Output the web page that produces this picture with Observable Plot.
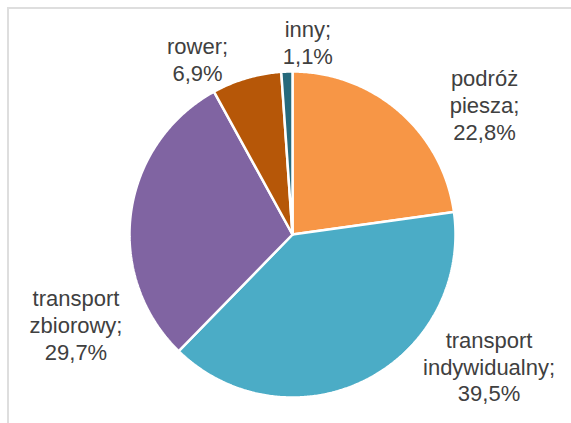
<!DOCTYPE html>
<html>
<head>
<meta charset="utf-8">
<script src="https://cdn.jsdelivr.net/npm/d3@7"></script>
<script src="https://cdn.jsdelivr.net/npm/@observablehq/plot@0.6"></script>
<style>
  html, body { margin: 0; padding: 0; background: #fff; }
  #wrap { position: relative; width: 571px; height: 423px; overflow: hidden; }
  #frame { position: absolute; left: 7px; top: 7px; width: 700px; height: 600px;
           border: 2px solid #dedede; pointer-events: none; box-sizing: border-box; }
</style>
</head>
<body>
<div id="wrap"><div id="frame"></div></div>
<script>
// ---- data ----
const categories = ["podróż piesza", "transport indywidualny", "transport zbiorowy", "rower", "inny"];
const values = [22.8, 39.5, 29.7, 6.9, 1.1];
const colors = ["#F79646", "#4BACC6", "#8064A2", "#B65708", "#276A7C"];

// ---- layout (pixels) ----
const W = 571, H = 423;
const cx = 292, cy = 234, R = 163;
// label nudges from the slice's outer edge midpoint, in pixels
const labelNudge = [[85, -7], [123, -14], [-55, 112], [-49, -19], [21, -30]];

const pie = d3.pie().sort(null).value(d => d.value)(
  categories.map((name, i) => ({name, value: values[i]}))
);

// slice outlines (unit circle, angle clockwise from 12 o'clock)
const slicePts = [];
for (const a of pie) {
  const n = Math.max(4, Math.ceil((a.endAngle - a.startAngle) / (Math.PI / 360)));
  slicePts.push({name: a.data.name, x: 0, y: 0});
  for (let k = 0; k <= n; k++) {
    const t = a.startAngle + (a.endAngle - a.startAngle) * k / n;
    slicePts.push({name: a.data.name, x: Math.sin(t), y: Math.cos(t)});
  }
  slicePts.push({name: a.data.name, x: 0, y: 0});
}

const fmt = v => v.toFixed(1).replace(".", ",") + "%";
const labels = pie.map((a, i) => {
  const m = (a.startAngle + a.endAngle) / 2;
  return {
    x: Math.sin(m) + labelNudge[i][0] / R,
    y: Math.cos(m) - labelNudge[i][1] / R,
    text: a.data.name.replace(" ", "\n") + ";\n" + fmt(a.data.value)
  };
});

const chart = Plot.plot({
  width: W, height: H,
  margin: 0,
  style: {background: "transparent", fontFamily: "'Liberation Sans', Arial, sans-serif"},
  x: {domain: [-cx / R, (W - cx) / R], range: [0, W], axis: null},
  y: {domain: [(cy - H) / R, cy / R], range: [H, 0], axis: null},
  color: {domain: categories, range: colors},
  marks: [
    Plot.line(slicePts, {x: "x", y: "y", z: "name", fill: "name", stroke: "white",
      strokeWidth: 2.5, strokeLinejoin: "miter", curve: "linear"}),
    Plot.text(labels, {x: "x", y: "y", text: "text", lineAnchor: "middle",
      fontSize: 22, lineHeight: 1.22, fill: "#404040",
      fontFamily: "'Liberation Sans', Arial, sans-serif"})
  ]
});
document.getElementById("wrap").insertBefore(chart, document.getElementById("frame"));
</script>
</body>
</html>
